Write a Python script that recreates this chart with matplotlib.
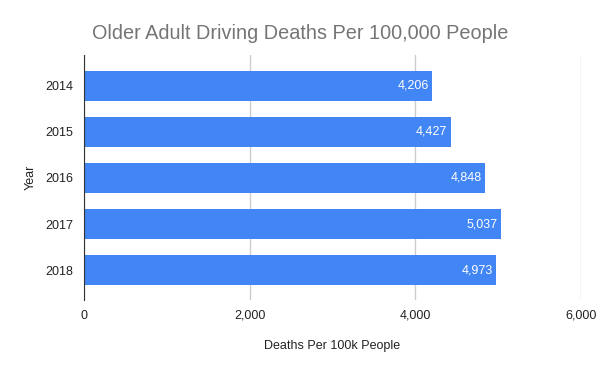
import matplotlib.pyplot as plt
import numpy as np

plt.rcParams['font.family'] = ['Liberation Sans', 'DejaVu Sans']

years = ['2014', '2015', '2016', '2017', '2018']
deaths = [4206, 4427, 4848, 5037, 4973]
x_ticks = [0, 2000, 4000, 6000]

fig = plt.figure(figsize=(6, 3.71), dpi=100)
ax = fig.add_axes([0.14, 0.191, 0.828, 0.661])

pos = np.arange(len(years))
bars = ax.barh(pos, deaths, height=0.65, color='#4285f4', zorder=3)
for b, v in zip(bars, deaths):
    ax.text(v - 40, b.get_y() + b.get_height() / 2, f'{v:,}', color='white',
            ha='right', va='center', fontsize=9, zorder=4)

ax.set_xlim(0, 6000)
ax.set_ylim(4.65, -0.67)
ax.set_yticks(pos)
ax.set_yticklabels(years)
ax.set_xticks(x_ticks)
ax.set_xticklabels([f'{t:,}' for t in x_ticks])
ax.tick_params(axis='both', length=0, labelsize=9, colors='#222222')
ax.tick_params(axis='x', pad=7)
ax.tick_params(axis='y', pad=8)
ax.grid(axis='x', color='#cccccc', linewidth=1, zorder=0)
for s in ['top', 'right', 'bottom']:
    ax.spines[s].set_visible(False)
ax.spines['left'].set_color('#333333')
ax.spines['left'].set_zorder(5)

ax.set_xlabel('Deaths Per 100k People', fontsize=9, color='#222222', labelpad=13)
ax.set_ylabel('Year', fontsize=9, color='#222222', labelpad=6)
fig.text(0.5, 0.91, 'Older Adult Driving Deaths Per 100,000 People', ha='center',
         va='center', fontsize=14.3, color='#757575')

fig.savefig('out.png', dpi=100)
